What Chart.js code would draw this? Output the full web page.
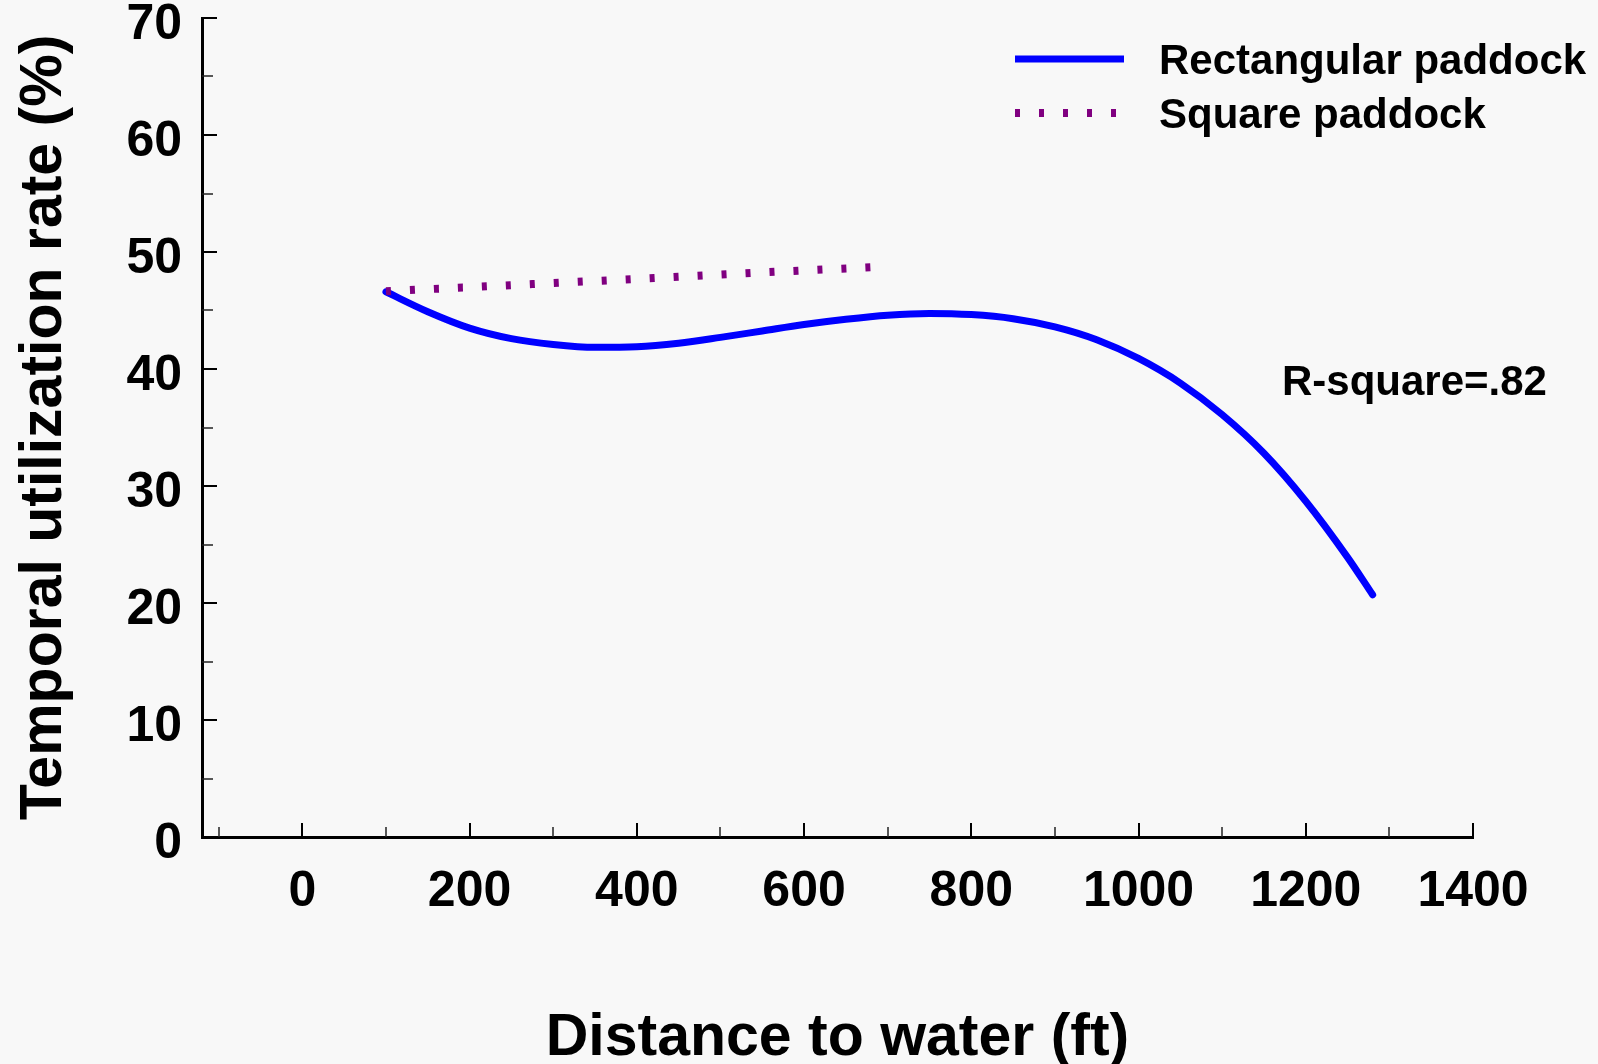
<!DOCTYPE html>
<html>
<head>
<meta charset="utf-8">
<script src="https://cdn.jsdelivr.net/npm/chart.js@4/dist/chart.umd.min.js"></script>
<style>
  html, body { margin: 0; padding: 0; background: #f8f8f8; }
  #wrap { width: 1598px; height: 1064px; position: relative; }
</style>
</head>
<body>
<div id="wrap"><canvas id="c" width="1598" height="1064"></canvas></div>
<script>
// ---- data ----
const rectDistance = [100, 150, 200, 250, 300, 350, 400, 450, 500, 550, 600, 650, 700, 750, 800, 850, 900, 950, 1000, 1050, 1100, 1150, 1200, 1250, 1280];
const rectRate     = [46.6, 44.9, 43.5, 42.6, 42.1, 41.85, 41.9, 42.2, 42.7, 43.25, 43.8, 44.25, 44.6, 44.75, 44.65, 44.3, 43.6, 42.5, 40.9, 38.8, 36.1, 32.8, 28.7, 23.9, 20.7];
const squareDistance = [100, 250, 400, 550, 680];
const squareRate     = [46.65, 47.17, 47.7, 48.25, 48.7];
const xTickValues = [0, 200, 400, 600, 800, 1000, 1200, 1400];
const xMinorTicks = [-100, 100, 300, 500, 700, 900, 1100, 1300];
const yTickValues = [0, 10, 20, 30, 40, 50, 60, 70];
const yMinorTicks = [5, 15, 25, 35, 45, 55, 65];
const seriesNames = ['Rectangular paddock', 'Square paddock'];
const xTitle = 'Distance to water (ft)';
const yTitle = 'Temporal utilization rate (%)';
const annotationText = 'R-square=.82';

const FONT = "'Liberation Sans', Arial, sans-serif";

const toPts = (xs, ys) => xs.map((x, i) => ({ x: x, y: ys[i] }));

const innerTicks = {
  id: 'innerTicks',
  afterDatasetsDraw(chart) {
    const ctx = chart.ctx;
    const xs = chart.scales.x, ys = chart.scales.y;
    const ax = chart.chartArea.bottom;
    const ay = chart.chartArea.left;
    ctx.save();
    ctx.strokeStyle = '#000';
    ctx.lineCap = 'butt';
    ctx.lineWidth = 2;
    xTickValues.forEach(v => {
      const p = Math.round(xs.getPixelForValue(v));
      ctx.beginPath(); ctx.moveTo(p, ax); ctx.lineTo(p, ax - 14); ctx.stroke();
    });
    yTickValues.forEach(v => {
      const p = Math.round(ys.getPixelForValue(v));
      ctx.beginPath(); ctx.moveTo(ay, p); ctx.lineTo(ay + 15, p); ctx.stroke();
    });
    ctx.lineWidth = 1.5;
    ctx.strokeStyle = '#222';
    xMinorTicks.forEach(v => {
      const p = Math.round(xs.getPixelForValue(v));
      ctx.beginPath(); ctx.moveTo(p, ax); ctx.lineTo(p, ax - 10); ctx.stroke();
    });
    yMinorTicks.forEach(v => {
      const p = Math.round(ys.getPixelForValue(v));
      ctx.beginPath(); ctx.moveTo(ay, p); ctx.lineTo(ay + 11, p); ctx.stroke();
    });
    ctx.restore();
  }
};

const legendAndNote = {
  id: 'legendAndNote',
  afterDraw(chart) {
    const ctx = chart.ctx;
    const rows = [{ y: 59 }, { y: 113 }];
    ctx.save();
    chart.data.datasets.forEach((ds, i) => {
      const y = rows[i].y;
      ctx.beginPath();
      ctx.strokeStyle = ds.borderColor;
      ctx.lineWidth = ds.borderWidth;
      ctx.setLineDash(ds.borderDash || []);
      ctx.lineCap = 'butt';
      ctx.moveTo(1015, y); ctx.lineTo(1124, y);
      ctx.stroke();
      ctx.setLineDash([]);
      ctx.fillStyle = '#000';
      ctx.font = 'bold 42px ' + FONT;
      ctx.textAlign = 'left';
      ctx.textBaseline = 'alphabetic';
      ctx.fillText(ds.label, 1159, y + 15);
    });
    ctx.font = 'bold 42px ' + FONT;
    ctx.fillStyle = '#000';
    ctx.textAlign = 'left';
    ctx.textBaseline = 'alphabetic';
    ctx.fillText(annotationText, 1282, 395);
    ctx.restore();
  }
};

const bgPlugin = {
  id: 'bg',
  beforeDraw(chart) {
    const ctx = chart.ctx;
    ctx.save();
    ctx.fillStyle = '#f8f8f8';
    ctx.fillRect(0, 0, chart.width, chart.height);
    ctx.restore();
  }
};

new Chart(document.getElementById('c'), {
  type: 'line',
  data: {
    datasets: [
      {
        label: seriesNames[0],
        data: toPts(rectDistance, rectRate),
        borderColor: '#0000ff',
        borderWidth: 7,
        borderCapStyle: 'round',
        borderJoinStyle: 'round',
        pointRadius: 0,
        cubicInterpolationMode: 'monotone',
        fill: false,
        order: 1
      },
      {
        label: seriesNames[1],
        data: toPts(squareDistance, squareRate),
        borderColor: '#800080',
        borderWidth: 8,
        borderDash: [5, 19],
        borderCapStyle: 'butt',
        pointRadius: 0,
        cubicInterpolationMode: 'monotone',
        fill: false,
        order: 0
      }
    ]
  },
  options: {
    responsive: false,
    devicePixelRatio: 1,
    animation: false,
    layout: { padding: { left: 0, top: 18, right: 125, bottom: 0 } },
    plugins: { legend: { display: false }, tooltip: { enabled: false } },
    scales: {
      x: {
        type: 'linear',
        min: -120,
        max: 1400,
        afterBuildTicks: s => { s.ticks = xTickValues.map(v => ({ value: v })); },
        afterFit: s => { s.height = 227; s.paddingLeft = 0; s.paddingRight = 0; },
        grid: { display: false, drawTicks: false },
        border: { display: true, color: '#000', width: 3 },
        ticks: {
          color: '#000',
          font: { family: FONT, size: 50, weight: 'bold' },
          padding: 25,
          maxRotation: 0,
          autoSkip: false,
          callback: v => String(v)
        },
        title: {
          display: true,
          text: xTitle,
          color: '#000',
          font: { family: FONT, size: 59, weight: 'bold', lineHeight: 0.85 },
          padding: { top: 0, bottom: 0 }
        }
      },
      y: {
        type: 'linear',
        min: 0,
        max: 70,
        afterBuildTicks: s => { s.ticks = yTickValues.map(v => ({ value: v })); },
        afterFit: s => { s.width = 202; s.paddingTop = 0; s.paddingBottom = 0; },
        grid: { display: false, drawTicks: false },
        border: { display: true, color: '#000', width: 3 },
        ticks: {
          color: '#000',
          font: { family: FONT, size: 50, weight: 'bold' },
          padding: 20,
          labelOffset: 7,
          autoSkip: false,
          callback: v => String(v)
        },
        title: {
          display: true,
          text: yTitle,
          color: '#000',
          font: { family: FONT, size: 59, weight: 'bold' },
          padding: { top: 9, bottom: 0 }
        }
      }
    }
  },
  plugins: [bgPlugin, innerTicks, legendAndNote]
});
</script>
</body>
</html>
